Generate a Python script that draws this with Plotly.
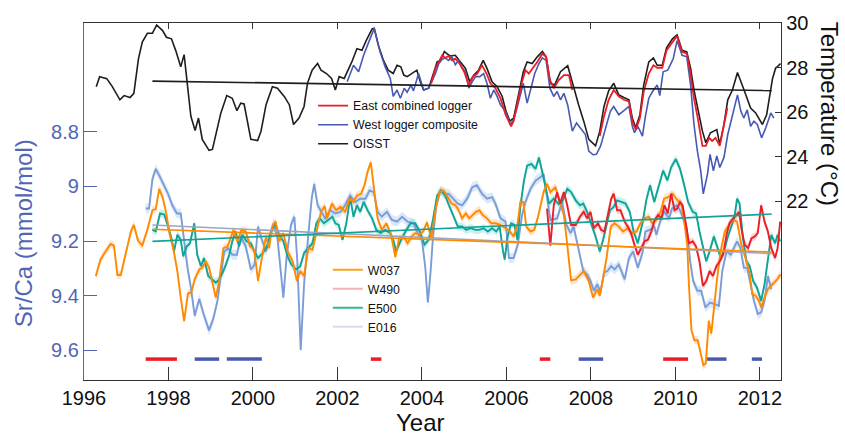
import plotly.graph_objects as go

# ---------------- Temperature records (deg C, right axis) ----------------
oisst_year = [1996.29, 1996.37, 1996.54, 1996.67, 1996.85, 1996.95, 1997.09, 1997.18, 1997.29, 1997.38,
              1997.50, 1997.62, 1997.72, 1997.86, 1997.95, 1998.07, 1998.17, 1998.29, 1998.37, 1998.45,
              1998.53, 1998.63, 1998.71, 1998.80, 1998.96, 1999.04, 1999.12, 1999.24, 1999.38, 1999.51,
              1999.62, 1999.71, 1999.79, 1999.95, 2000.11, 2000.19, 2000.31, 2000.46, 2000.58, 2000.74,
              2000.86, 2000.96, 2001.09, 2001.21, 2001.29, 2001.40, 2001.53, 2001.61, 2001.74, 2001.86,
              2001.95, 2002.04, 2002.16, 2002.34, 2002.46, 2002.58, 2002.68, 2002.82, 2002.87, 2002.97,
              2003.09, 2003.20, 2003.32, 2003.41, 2003.50, 2003.57, 2003.65, 2003.77, 2003.88, 2003.96,
              2004.04, 2004.16, 2004.24, 2004.36, 2004.44, 2004.53, 2004.59, 2004.67, 2004.79, 2004.91,
              2005.03, 2005.13, 2005.23, 2005.34, 2005.45, 2005.54, 2005.66, 2005.78, 2005.90, 2005.98,
              2006.08, 2006.17, 2006.29, 2006.40, 2006.49, 2006.61, 2006.73, 2006.85, 2006.94, 2007.04,
              2007.14, 2007.28, 2007.45, 2007.59, 2007.71, 2007.83, 2007.95, 2008.11, 2008.21, 2008.31,
              2008.42, 2008.54, 2008.66, 2008.78, 2008.90, 2008.98, 2009.06, 2009.16, 2009.25, 2009.37,
              2009.48, 2009.57, 2009.69, 2009.79, 2009.93, 2010.04, 2010.16, 2010.27, 2010.36, 2010.44,
              2010.53, 2010.64, 2010.72, 2010.83, 2010.98, 2011.05, 2011.15, 2011.24, 2011.35, 2011.47,
              2011.61, 2011.70, 2011.78, 2011.90, 2012.06, 2012.16, 2012.30, 2012.37, 2012.49]
oisst_temp = [27.14, 27.59, 27.50, 27.14, 26.55, 26.74, 26.65, 26.84, 28.40, 29.14,
              29.54, 29.54, 29.91, 29.66, 29.36, 29.29, 28.77, 28.03, 28.58, 27.21,
              25.81, 25.17, 25.73, 24.77, 24.28, 24.32, 24.99, 25.96, 26.74, 26.62,
              26.06, 26.40, 26.36, 24.77, 24.72, 25.14, 26.33, 27.14, 27.07, 26.70,
              26.33, 25.44, 25.73, 26.25, 27.29, 27.88, 28.18, 27.88, 27.73, 27.51,
              26.99, 27.59, 27.51, 28.25, 28.84, 28.77, 29.21, 29.73, 29.76, 28.99,
              28.32, 27.88, 27.73, 28.10, 28.03, 27.66, 27.59, 27.73, 27.88, 27.36,
              26.99, 27.07, 27.51, 28.25, 28.32, 28.72, 28.62, 28.52, 28.55, 28.25,
              27.96, 27.36, 27.66, 27.88, 28.32, 27.96, 27.36, 27.14, 26.70, 26.10,
              25.59, 25.73, 26.77, 27.81, 28.25, 28.18, 28.48, 28.72, 28.48, 27.29,
              27.21, 27.81, 28.08, 27.07, 26.32, 25.59, 24.77, 24.48, 25.14, 26.25,
              26.95, 27.29, 26.77, 26.65, 26.55, 25.73, 25.29, 25.88, 27.21, 28.25,
              28.43, 28.10, 28.10, 28.88, 29.29, 29.47, 28.77, 28.70, 27.96, 26.99,
              26.10, 25.14, 24.62, 25.07, 25.21, 24.55, 25.44, 26.55, 26.99, 27.78,
              27.07, 26.55, 26.18, 25.96, 25.44, 25.88, 27.51, 27.96, 28.18]

west_year = [2002.23, 2002.38, 2002.50, 2002.62, 2002.74, 2002.87, 2003.01, 2003.13, 2003.25, 2003.32,
             2003.41, 2003.49, 2003.58, 2003.65, 2003.74, 2003.80, 2003.92, 2004.04, 2004.16, 2004.32,
             2004.40, 2004.48, 2004.55, 2004.63, 2004.71, 2004.79, 2004.87, 2004.95, 2005.03, 2005.11,
             2005.19, 2005.27, 2005.37, 2005.46, 2005.54, 2005.62, 2005.70, 2005.78, 2005.86, 2005.98,
             2006.09, 2006.17, 2006.25, 2006.33, 2006.40, 2006.49, 2006.59, 2006.67, 2006.77, 2006.85,
             2006.94, 2007.03, 2007.12, 2007.20, 2007.28, 2007.36, 2007.45, 2007.56, 2007.66, 2007.75,
             2007.87, 2007.95, 2008.05, 2008.13, 2008.23, 2008.35, 2008.46, 2008.54, 2008.66, 2008.78,
             2008.90, 2008.98, 2009.03, 2009.11, 2009.22, 2009.29, 2009.37, 2009.48, 2009.57, 2009.63,
             2009.71, 2009.82, 2009.95, 2010.04, 2010.16, 2010.27, 2010.36, 2010.44, 2010.52, 2010.60,
             2010.66, 2010.76, 2010.82, 2010.90, 2010.98, 2011.05, 2011.15, 2011.24, 2011.35, 2011.47,
             2011.55, 2011.62, 2011.70, 2011.78, 2011.86, 2011.94, 2012.04, 2012.14, 2012.26, 2012.33]
west_temp = [27.36, 28.10, 27.81, 28.55, 29.14, 29.76, 28.70, 28.03, 27.51, 26.70,
             26.99, 26.62, 27.07, 26.89, 27.21, 26.95, 27.73, 26.99, 27.07, 27.73,
             28.18, 28.37, 28.43, 28.32, 28.48, 28.13, 28.32, 27.99, 27.81, 27.07,
             27.36, 27.59, 27.59, 27.73, 27.29, 26.62, 26.99, 26.70, 26.32, 26.03,
             25.44, 25.66, 26.18, 26.77, 27.29, 26.40, 27.21, 27.73, 28.18, 28.43,
             28.32, 27.07, 26.70, 26.92, 26.55, 26.84, 26.32, 25.14, 25.51, 25.29,
             24.99, 24.25, 24.08, 24.10, 24.48, 25.29, 26.03, 26.25, 25.88, 26.06,
             26.25, 25.36, 25.07, 25.36, 24.92, 25.81, 26.62, 26.99, 27.21, 26.74,
             27.81, 27.88, 28.40, 29.21, 28.55, 28.48, 27.21, 25.44, 24.25, 23.36,
             22.32, 23.21, 24.10, 23.36, 24.03, 23.51, 23.96, 24.99, 25.88, 26.77,
             26.03, 25.73, 26.10, 25.36, 25.59, 25.44, 24.84, 25.29, 25.96, 25.73]

east_year = [2004.22, 2004.32, 2004.40, 2004.48, 2004.55, 2004.63, 2004.71, 2004.79, 2004.89, 2005.00,
             2005.11, 2005.21, 2005.31, 2005.42, 2005.53, 2005.62, 2005.74, 2005.86, 2005.98, 2006.11,
             2006.17, 2006.27, 2006.37, 2006.45, 2006.53, 2006.63, 2006.73, 2006.85, 2006.94, 2007.03,
             2007.12, 2007.24, 2007.36, 2007.48, 2007.56, 2007.90, 2008.21, 2008.30, 2008.42, 2008.54,
             2008.66, 2008.78, 2008.90, 2008.98, 2009.06, 2009.16, 2009.25, 2009.37, 2009.48, 2009.57,
             2009.69, 2009.79, 2009.93, 2010.04, 2010.16, 2010.27, 2010.36, 2010.44, 2010.53, 2010.64,
             2010.72, 2010.80, 2010.87, 2010.95, 2011.05, 2011.15, 2011.23]
east_temp = [27.29, 27.96, 28.25, 28.55, 28.43, 28.52, 28.32, 28.40, 28.18, 27.81,
             27.21, 27.59, 27.73, 28.10, 27.73, 27.29, 27.07, 26.62, 25.88, 25.36,
             25.59, 26.55, 27.36, 27.88, 27.73, 27.99, 28.25, 28.62, 28.48, 27.44,
             27.07, 27.44, 27.66, 27.66, 26.99, None, 24.92, 25.73, 26.55, 26.99,
             26.70, 26.55, 26.48, 25.59, 25.21, 25.73, 26.92, 27.73, 28.10, 27.99,
             27.99, 28.77, 29.14, 29.41, 28.70, 28.62, 27.66, 26.62, 25.73, 24.48,
             24.48, 24.84, 24.70, 24.84, 24.48, 25.44, 26.18]

# ---------------- Coral Sr/Ca records (mmol/mol, left axis) ----------------
w037_year = [1996.28, 1996.39, 1996.51, 1996.63, 1996.71, 1996.79, 1996.87, 1996.99, 1997.11, 1997.18,
             1997.28, 1997.38, 1997.50, 1997.62, 1997.70, 1997.78, 1997.86, 1997.94, 1998.03, 1998.12,
             1998.21, 1998.29, 1998.37, 1998.46, 1998.54, 1998.62, 1998.73, 1998.80, 1998.88, 1998.96,
             1999.04, 1999.12, 1999.20, 1999.30, 1999.40, 1999.54, 1999.63, 1999.73, 1999.83, 1999.93,
             2000.03, 2000.12, 2000.23, 2000.31, 2000.38, 2000.46, 2000.54, 2000.62, 2000.72, 2000.82,
             2000.94, 2001.04, 2001.12, 2001.21, 2001.31, 2001.41, 2001.50, 2001.61, 2001.70, 2001.75,
             2001.87, 2001.97, 2002.07, 2002.18, 2002.29, 2002.38, 2002.46, 2002.56, 2002.64, 2002.71,
             2002.79, 2002.87, 2002.95, 2003.05, 2003.16, 2003.27, 2003.37, 2003.46, 2003.57, 2003.66,
             2003.76, 2003.84, 2003.94, 2004.03, 2004.12, 2004.22, 2004.32, 2004.41, 2004.51, 2004.61,
             2004.70, 2004.79, 2004.87, 2004.95, 2005.04, 2005.12, 2005.20, 2005.28, 2005.36, 2005.44,
             2005.54, 2005.64, 2005.74, 2005.86, 2005.98, 2006.08, 2006.17, 2006.26, 2006.33, 2006.40,
             2006.47, 2006.57, 2006.66, 2006.74, 2006.81, 2006.88, 2006.96, 2007.04, 2007.16, 2007.26,
             2007.36, 2007.44, 2007.53, 2007.64, 2007.74, 2007.83, 2007.95, 2008.05, 2008.15, 2008.21,
             2008.29, 2008.37, 2008.47, 2008.56, 2008.66, 2008.76, 2008.87, 2008.98, 2009.08, 2009.17,
             2009.27, 2009.37, 2009.45, 2009.55, 2009.65, 2009.73, 2009.83, 2009.94, 2010.02, 2010.09,
             2010.15, 2010.21, 2010.28, 2010.32, 2010.38, 2010.45, 2010.53, 2010.60, 2010.66, 2010.72,
             2010.79, 2010.85, 2010.91, 2010.99, 2011.07, 2011.17, 2011.27, 2011.37, 2011.46, 2011.56,
             2011.66, 2011.76, 2011.82, 2011.90, 2011.98, 2012.03, 2012.11, 2012.19, 2012.30, 2012.41,
             2012.49]
w037_srca = [9.328, 9.268, 9.238, 9.211, 9.217, 9.324, 9.324, 9.244, 9.165, 9.141,
             9.199, 9.216, 9.159, 9.087, 9.083, 9.009, 9.039, 9.093, 9.177, 9.232,
             9.310, 9.407, 9.493, 9.392, 9.388, 9.340, 9.304, 9.298, 9.274, 9.296,
             9.352, 9.407, 9.346, 9.226, 9.220, 9.159, 9.201, 9.159, 9.165, 9.220,
             9.232, 9.346, 9.244, 9.183, 9.226, 9.147, 9.129, 9.201, 9.171, 9.238,
             9.274, 9.346, 9.310, 9.328, 9.226, 9.232, 9.171, 9.093, 9.072, 9.117,
             9.063, 9.087, 9.075, 9.093, 9.045, 9.057, 9.033, 9.027, 8.996, 8.948,
             8.912, 9.009, 9.117, 9.159, 9.135, 9.177, 9.259, 9.190, 9.183, 9.208,
             9.183, 9.171, 9.177, 9.165, 9.132, 9.190, 9.087, 9.021, 9.015, 9.039,
             9.063, 9.069, 9.087, 9.117, 9.099, 9.117, 9.105, 9.093, 9.087, 9.105,
             9.117, 9.135, 9.135, 9.141, 9.153, 9.165, 9.183, 9.141, 9.057, 9.057,
             9.147, 9.165, 9.159, 9.117, 9.069, 9.021, 8.991, 9.021, 9.003, 9.057,
             9.105, 9.213, 9.344, 9.340, 9.322, 9.310, 9.346, 9.407, 9.376, 9.400,
             9.334, 9.262, 9.147, 9.135, 9.147, 9.165, 9.153, 9.171, 9.165, 9.135,
             9.117, 9.111, 9.135, 9.123, 9.093, 9.045, 9.039, 9.027, 9.045, 9.057,
             9.069, 9.129, 9.213, 9.358, 9.527, 9.563, 9.563, 9.611, 9.654, 9.648,
             9.491, 9.539, 9.443, 9.334, 9.238, 9.165, 9.141, 9.123, 9.129, 9.213,
             9.262, 9.322, 9.394, 9.400, 9.419, 9.443, 9.407, 9.376, 9.358, 9.340,
             9.322]

w490_year = [2006.96, 2007.04, 2007.12, 2007.20, 2007.27, 2007.36, 2007.44, 2007.53, 2007.64, 2007.74,
             2007.83, 2007.91, 2007.99, 2008.07, 2008.17, 2008.24, 2008.32, 2008.40, 2008.48, 2008.54,
             2008.62, 2008.70, 2008.80, 2008.87, 2008.95, 2009.03, 2009.11, 2009.19, 2009.27, 2009.35,
             2009.43, 2009.51, 2009.59, 2009.67, 2009.74, 2009.82, 2009.90, 2009.98, 2010.04, 2010.11,
             2010.17, 2010.24, 2010.32, 2010.41, 2010.49, 2010.57, 2010.65, 2010.73, 2010.81, 2010.89,
             2010.97, 2011.05, 2011.13, 2011.21, 2011.28, 2011.37, 2011.45, 2011.51, 2011.56, 2011.64,
             2011.72, 2011.80, 2011.88, 2011.95, 2012.03, 2012.11, 2012.19, 2012.27, 2012.36, 2012.42,
             2012.48]
w490_srca = [9.081, 9.217, 9.070, 9.021, 9.063, 9.021, 9.069, 9.141, 9.141, 9.111,
             9.093, 9.117, 9.093, 9.153, 9.135, 9.159, 9.165, 9.099, 9.045, 9.027,
             9.087, 9.087, 9.129, 9.147, 9.171, 9.213, 9.250, 9.226, 9.201, 9.195,
             9.165, 9.123, 9.105, 9.117, 9.069, 9.099, 9.027, 9.087, 9.081, 9.057,
             9.069, 9.129, 9.208, 9.201, 9.220, 9.274, 9.364, 9.346, 9.310, 9.328,
             9.292, 9.274, 9.250, 9.177, 9.135, 9.117, 9.105, 9.093, 9.153, 9.213,
             9.226, 9.190, 9.183, 9.171, 9.069, 9.129, 9.165, 9.226, 9.262, 9.226,
             9.129]

e500_year = [1997.62, 1997.70, 1997.80, 1997.90, 1997.99, 1998.07, 1998.13, 1998.21, 1998.29, 1998.35,
             1998.43, 1998.51, 1998.61, 1998.68, 1998.77, 1998.84, 1998.94, 1999.04, 1999.12, 1999.20,
             1999.28, 1999.36, 1999.44, 1999.51, 1999.59, 1999.67, 1999.75, 1999.85, 1999.95, 2000.03,
             2000.12, 2000.23, 2000.33, 2000.42, 2000.52, 2000.62, 2000.72, 2000.82, 2000.91, 2001.02,
             2001.12, 2001.21, 2001.31, 2001.41, 2001.50, 2001.58, 2001.68, 2001.78, 2001.88, 2001.95,
             2002.03, 2002.12, 2002.21, 2002.30, 2002.38, 2002.46, 2002.54, 2002.62, 2002.71, 2002.82,
             2002.92, 2003.02, 2003.13, 2003.25, 2003.33, 2003.39, 2003.49, 2003.61, 2003.73, 2003.84,
             2003.95, 2004.06, 2004.16, 2004.26, 2004.36, 2004.45, 2004.55, 2004.64, 2004.75, 2004.85,
             2004.95, 2005.05, 2005.16, 2005.26, 2005.36, 2005.46, 2005.56, 2005.66, 2005.76, 2005.84,
             2005.92, 2005.96, 2006.02, 2006.11, 2006.19, 2006.26, 2006.33, 2006.41, 2006.49, 2006.59,
             2006.69, 2006.77, 2006.85, 2006.93, 2007.01, 2007.12, 2007.24, 2007.32, 2007.44, 2007.53,
             2007.64, 2007.74, 2007.82, 2007.91, 2008.01, 2008.11, 2008.21, 2008.29, 2008.37, 2008.45,
             2008.54, 2008.62, 2008.72, 2008.82, 2008.92, 2009.01, 2009.11, 2009.22, 2009.31, 2009.40,
             2009.50, 2009.59, 2009.71, 2009.81, 2009.90, 2010.01, 2010.11, 2010.21, 2010.30, 2010.41,
             2010.49, 2010.57, 2010.65, 2010.73, 2010.81, 2010.91, 2011.00, 2011.07, 2011.15, 2011.23,
             2011.31, 2011.40, 2011.46, 2011.52, 2011.60, 2011.68, 2011.76, 2011.84, 2011.93, 2012.03,
             2012.11, 2012.19, 2012.27, 2012.36, 2012.42, 2012.48]
e500_srca = [9.159, 9.165, 9.099, 9.103, 9.147, 9.190, 9.238, 9.177, 9.195, 9.256,
             9.220, 9.208, 9.135, 9.250, 9.292, 9.262, 9.328, 9.340, 9.352, 9.340,
             9.316, 9.286, 9.250, 9.201, 9.165, 9.220, 9.177, 9.201, 9.208, 9.238,
             9.262, 9.244, 9.220, 9.171, 9.135, 9.177, 9.201, 9.256, 9.286, 9.304,
             9.292, 9.244, 9.226, 9.208, 9.135, 9.117, 9.135, 9.123, 9.111, 9.135,
             9.141, 9.195, 9.135, 9.039, 9.111, 9.069, 9.093, 9.057, 9.087, 9.117,
             9.159, 9.171, 9.159, 9.171, 9.201, 9.238, 9.201, 9.165, 9.135, 9.135,
             9.165, 9.213, 9.195, 9.123, 9.033, 9.015, 9.033, 9.069, 9.111, 9.147,
             9.147, 9.159, 9.153, 9.159, 9.159, 9.153, 9.165, 9.153, 9.165, 9.147,
             9.238, 9.268, 9.190, 9.135, 9.141, 9.195, 9.075, 8.984, 8.924, 8.918,
             8.936, 8.894, 8.948, 9.009, 9.063, 9.045, 9.065, 9.057, 9.009, 9.021,
             9.051, 9.069, 9.063, 9.093, 9.135, 9.183, 9.238, 9.195, 9.141, 9.087,
             9.075, 9.051, 9.057, 9.063, 9.093, 9.165, 9.208, 9.135, 9.051, 8.996,
             9.057, 9.009, 8.942, 8.978, 8.930, 8.900, 8.936, 8.996, 9.057, 9.093,
             9.099, 9.165, 9.226, 9.274, 9.238, 9.183, 9.226, 9.262, 9.238, 9.190,
             9.153, 9.111, 9.045, 9.063, 9.190, 9.274, 9.292, 9.346, 9.370, 9.419,
             9.358, 9.262, 9.177, 9.208, 9.177, 9.201]

e016_year = [1997.46, 1997.54, 1997.62, 1997.70, 1997.80, 1997.90, 1997.99, 1998.09, 1998.20, 1998.29,
             1998.37, 1998.45, 1998.53, 1998.62, 1998.73, 1998.83, 1998.96, 1999.06, 1999.16, 1999.24,
             1999.32, 1999.41, 1999.51, 1999.62, 1999.71, 1999.83, 1999.95, 2000.04, 2000.12, 2000.21,
             2000.31, 2000.40, 2000.49, 2000.58, 2000.72, 2000.80, 2000.90, 2000.98, 2001.05, 2001.13,
             2001.21, 2001.31, 2001.39, 2001.45, 2001.53, 2001.62, 2001.71, 2001.83, 2001.95, 2002.07,
             2002.18, 2002.30, 2002.42, 2002.54, 2002.66, 2002.76, 2002.86, 2002.95, 2003.05, 2003.17,
             2003.29, 2003.41, 2003.53, 2003.66, 2003.80, 2003.92, 2004.00, 2004.08, 2004.14, 2004.20,
             2004.26, 2004.34, 2004.44, 2004.53, 2004.63, 2004.74, 2004.85, 2004.95, 2005.07, 2005.19,
             2005.30, 2005.42, 2005.54, 2005.66, 2005.74, 2005.86, 2005.98, 2006.06, 2006.17, 2006.27,
             2006.37, 2006.45, 2006.57, 2006.69, 2006.81, 2006.88, 2007.04, 2007.20, 2007.32, 2007.42,
             2007.52, 2007.59, 2007.71, 2007.82, 2007.91, 2007.99, 2008.07, 2008.15, 2008.23, 2008.31,
             2008.39, 2008.48, 2008.56, 2008.66, 2008.80, 2008.90, 2009.00, 2009.11, 2009.22, 2009.29,
             2009.40, 2009.50, 2009.55, 2009.65, 2009.74, 2009.85, 2009.92, 2010.03, 2010.11, 2010.19,
             2010.27, 2010.35, 2010.42, 2010.52, 2010.61, 2010.71, 2010.82, 2010.93, 2011.03, 2011.11,
             2011.21, 2011.31, 2011.38, 2011.46, 2011.54, 2011.62, 2011.70, 2011.78, 2011.86, 2011.95,
             2012.03, 2012.11, 2012.19, 2012.27]
e016_srca = [9.081, 9.081, 8.973, 8.936, 8.966, 8.996, 9.027, 9.069, 9.099, 9.099,
             9.201, 9.298, 9.370, 9.473, 9.412, 9.467, 9.527, 9.485, 9.418, 9.322,
             9.238, 9.226, 9.250, 9.250, 9.183, 9.220, 9.304, 9.286, 9.147, 9.195,
             9.238, 9.177, 9.135, 9.190, 9.407, 9.250, 9.141, 9.111, 9.274, 9.599,
             9.358, 9.177, 9.045, 8.991, 9.069, 9.093, 9.117, 9.087, 9.099, 9.093,
             9.069, 9.033, 9.057, 9.045, 9.045, 9.015, 9.021, 9.093, 9.111, 9.093,
             9.123, 9.129, 9.111, 9.129, 9.135, 9.177, 9.195, 9.298, 9.425, 9.322,
             9.190, 9.069, 9.015, 9.027, 9.027, 9.045, 9.063, 9.069, 9.045, 9.003,
             8.996, 9.027, 9.045, 9.039, 9.063, 9.117, 9.129, 9.262, 9.262, 9.213,
             9.105, 9.057, 9.009, 8.979, 8.966, 8.954, 9.123, 9.117, 9.057, 9.141,
             9.171, 9.147, 9.238, 9.310, 9.322, 9.346, 9.382, 9.358, 9.388, 9.316,
             9.310, 9.292, 9.304, 9.286, 9.340, 9.262, 9.238, 9.298, 9.244, 9.165,
             9.159, 9.147, 9.177, 9.123, 9.093, 9.117, 9.081, 9.069, 9.087, 9.117,
             9.153, 9.274, 9.346, 9.382, 9.382, 9.443, 9.425, 9.431, 9.437, 9.310,
             9.238, 9.250, 9.226, 9.201, 9.226, 9.298, 9.298, 9.358, 9.419, 9.467,
             9.461, 9.419, 9.328, 9.376]

# analytical uncertainty (half-width of the shaded envelopes, mmol/mol)
w037_err = 0.015
w490_err = 0.015
e500_err = 0.015
e016_err = 0.018

# ---------------- Linear trends (endpoints of the fitted lines) ----------------
trend_year = [1997.62, 2012.28]
oisst_trend = [27.39, 26.96]
w037_trend = [9.157, 9.240]
e016_trend = [9.141, 9.246]
e500_trend = [9.201, 9.101]

# ---------------- ENSO events ----------------
nino_start = [1997.46, 2002.79, 2006.79, 2009.71]
nino_end = [1998.20, 2003.04, 2007.04, 2010.30]
nina_start = [1998.62, 1999.38, 2007.71, 2010.75, 2011.81]
nina_end = [1999.20, 2000.21, 2008.29, 2011.21, 2012.05]
enso_level = 9.632

# ---------------- Styling ----------------
BLUE_AX = "#5266b5"
C_OISST = "#1e1e1e"
C_WEST = "#4659b3"
C_EAST = "#ee1c25"
C_W037 = "#ff8a00"
C_W490 = "#ec1f27"
C_E500 = "#11a396"
C_E016 = "#7c9cd8"
FONT = "Liberation Sans, Arial, Helvetica, sans-serif"

fig = go.Figure()


def envelope(xs, ys, half, fill):
    xb = list(xs) + list(xs[::-1])
    yb = [v + half for v in ys] + [v - half for v in ys[::-1]]
    return go.Scatter(x=xb, y=yb, mode="lines", fill="toself", fillcolor=fill,
                      line=dict(width=0), hoverinfo="skip", showlegend=False)


# uncertainty envelopes
fig.add_trace(envelope(e016_year, e016_srca, e016_err, "rgba(160,195,238,0.38)"))
fig.add_trace(envelope(e500_year, e500_srca, e500_err, "rgba(90,210,210,0.34)"))
fig.add_trace(envelope(w037_year, w037_srca, w037_err, "rgba(253,190,140,0.42)"))
fig.add_trace(envelope(w490_year, w490_srca, w490_err, "rgba(245,140,150,0.36)"))

# Sr/Ca records
for xs, ys, col in [(e016_year, e016_srca, C_E016), (e500_year, e500_srca, C_E500),
                    (w037_year, w037_srca, C_W037), (w490_year, w490_srca, C_W490)]:
    fig.add_trace(go.Scatter(x=xs, y=ys, mode="lines", line=dict(color=col, width=1.9),
                             showlegend=False, hoverinfo="skip"))

# Sr/Ca trends
for ys, col in [(e016_trend, "#9aa6c6"), (w037_trend, C_W037), (e500_trend, C_E500)]:
    fig.add_trace(go.Scatter(x=trend_year, y=ys, mode="lines", line=dict(color=col, width=1.6),
                             showlegend=False, hoverinfo="skip"))


def segments(starts, ends, level):
    xs, ys = [], []
    for a, b in zip(starts, ends):
        xs += [a, b, None]
        ys += [level, level, None]
    return xs, ys


nx, ny = segments(nino_start, nino_end, enso_level)
fig.add_trace(go.Scatter(x=nx, y=ny, mode="lines", line=dict(color="#ee1c25", width=3.5),
                         showlegend=False, hoverinfo="skip"))
lx, ly = segments(nina_start, nina_end, enso_level)
fig.add_trace(go.Scatter(x=lx, y=ly, mode="lines", line=dict(color="#4a5aac", width=3.5),
                         showlegend=False, hoverinfo="skip"))

# temperature records (right axis)
fig.add_trace(go.Scatter(x=oisst_year, y=oisst_temp, yaxis="y2", mode="lines",
                         line=dict(color=C_OISST, width=1.6), name="OISST",
                         legend="legend", legendrank=3, hoverinfo="skip"))
fig.add_trace(go.Scatter(x=west_year, y=west_temp, yaxis="y2", mode="lines",
                         line=dict(color=C_WEST, width=1.6), name="West logger composite",
                         legend="legend", legendrank=2, hoverinfo="skip"))
fig.add_trace(go.Scatter(x=east_year, y=east_temp, yaxis="y2", mode="lines",
                         line=dict(color=C_EAST, width=1.8), name="East combined logger",
                         legend="legend", legendrank=1, hoverinfo="skip", connectgaps=False))
fig.add_trace(go.Scatter(x=trend_year, y=oisst_trend, yaxis="y2", mode="lines",
                         line=dict(color=C_OISST, width=1.6), showlegend=False, hoverinfo="skip"))

# legend keys for the coral records
for nm, col, rk in [("W037", "#f9a31b", 1), ("W490", "#f7b0b5", 2),
                    ("E500", "#2dbd82", 3), ("E016", "#d8dcf0", 4)]:
    fig.add_trace(go.Scatter(x=[None], y=[None], mode="lines", line=dict(color=col, width=2),
                             name=nm, legend="legend2", legendrank=rk))

# carrier for the top frame axis
fig.add_trace(go.Scatter(x=[None], y=[None], xaxis="x2", yaxis="y", mode="lines",
                         showlegend=False, hoverinfo="skip"))

year_ticks = list(range(1996, 2013, 2))

fig.update_layout(
    width=845, height=438,
    margin=dict(l=84, r=64, t=19, b=58),
    paper_bgcolor="white", plot_bgcolor="white",
    font=dict(family=FONT, size=20, color="#111111"),
    xaxis=dict(range=[1996, 2012.5], tickvals=year_ticks, ticks="inside", ticklen=13,
               tickwidth=1.3, tickcolor="#333333", showline=True, linecolor="#333333",
               linewidth=1.3, showgrid=False, zeroline=False, tickfont=dict(size=20)),
    xaxis2=dict(overlaying="x", side="top", anchor="y", range=[1996, 2012.5],
                tickvals=year_ticks, ticks="inside", ticklen=6, tickwidth=1.3,
                tickcolor="#333333", showticklabels=False, showline=True,
                linecolor="#333333", linewidth=1.3, showgrid=False, zeroline=False),
    yaxis=dict(range=[9.7085, 8.402], tickvals=[8.8, 9.0, 9.2, 9.4, 9.6],
               ticktext=["8.8", "9", "9.2", "9.4", "9.6"], ticks="inside", ticklen=13,
               tickwidth=1.3, tickcolor=BLUE_AX, showline=True, linecolor=BLUE_AX,
               linewidth=1.3, showgrid=False, zeroline=False,
               tickfont=dict(size=20, color=BLUE_AX)),
    yaxis2=dict(overlaying="y", side="right", range=[13.96, 30],
                tickvals=[22, 24, 26, 28, 30], ticks="inside", ticklen=6, tickwidth=1.3,
                tickcolor="#333333", showline=True, linecolor="#333333", linewidth=1.3,
                showgrid=False, zeroline=False, tickfont=dict(size=20)),
    legend=dict(x=0.3287, y=0.8090, xanchor="left", yanchor="top",
                bgcolor="rgba(0,0,0,0)", borderwidth=0, font=dict(size=12.3, color="#111111"),
                tracegroupgap=0),
    legend2=dict(x=0.3498, y=0.3491, xanchor="left", yanchor="top",
                 bgcolor="rgba(0,0,0,0)", borderwidth=0, font=dict(size=12.3, color="#111111"),
                 tracegroupgap=0),
    annotations=[
        dict(text="Year", xref="paper", yref="paper", x=0.4823, y=-0.1620,
             xanchor="center", yanchor="bottom", showarrow=False,
             font=dict(size=24, color="#111111")),
        dict(text="Sr/Ca (mmol/mol)", xref="paper", yref="paper", x=-0.0876, y=0.411,
             xanchor="center", yanchor="middle", showarrow=False, textangle=-90,
             font=dict(size=24, color=BLUE_AX)),
        dict(text="Temperature (°C)", xref="paper", yref="paper", x=1.0708, y=0.745,
             xanchor="center", yanchor="middle", showarrow=False, textangle=90,
             font=dict(size=24, color="#111111")),
    ],
)

fig.write_html("out.html")
